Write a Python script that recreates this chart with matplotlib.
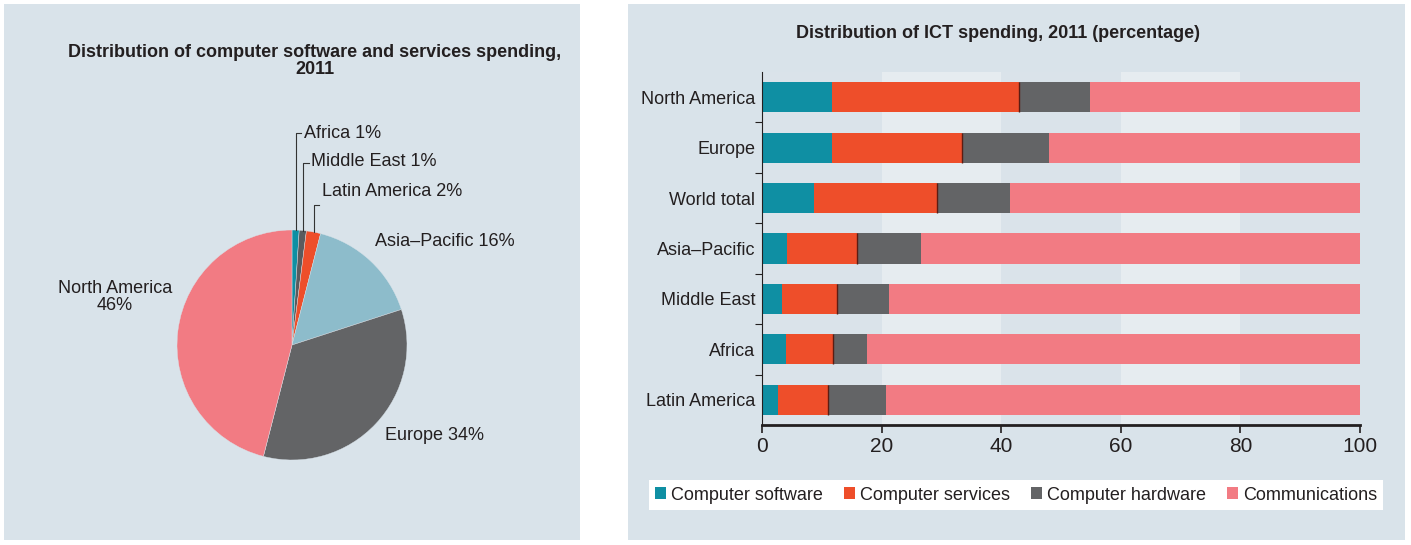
import numpy as np
import matplotlib
matplotlib.use("Agg")
import matplotlib.pyplot as plt

plt.rcParams['font.family'] = ['Liberation Sans', 'DejaVu Sans']

# pie data (clockwise from top)
pie_labels = ["Africa", "Middle East", "Latin America", "Asia\u2013Pacific", "Europe", "North America"]
pie_values = [1, 1, 2, 16, 34, 46]
pie_colors = ["#0f8fa3", "#5a5b5e", "#ee4e2a", "#8dbccb", "#636466", "#f27b83"]

# bar data
regions = ["North America", "Europe", "World total", "Asia\u2013Pacific", "Middle East", "Africa", "Latin America"]
software = [11.7, 11.7, 8.7, 4.2, 3.4, 4.0, 2.7]
services = [31.3, 21.8, 20.6, 11.7, 9.1, 7.8, 8.4]
hardware = [11.8, 14.5, 12.2, 10.7, 8.8, 5.8, 9.7]
series_names = ["Computer software", "Computer services", "Computer hardware", "Communications"]
series_colors = ["#0f8fa3", "#ee4e2a", "#636466", "#f27b83"]

W, H = 1411, 545
fig = plt.figure(figsize=(W / 100, H / 100), dpi=100)
fig.patch.set_facecolor("white")
bg = "#d9e3ea"
txt = "#231f20"

def px(x0, y0, x1, y1):
    return [x0 / W, 1 - y1 / H, (x1 - x0) / W, (y1 - y0) / H]

# panel backgrounds
for box in [(4, 4, 580, 540), (628, 4, 1405, 540)]:
    a = fig.add_axes(px(*box), zorder=-10)
    a.set_facecolor(bg)
    a.set_xticks([])
    a.set_yticks([])
    for s in a.spines.values():
        s.set_visible(False)

# ---------- pie ----------
fig.text(315 / W, 1 - 61 / H, "Distribution of computer software and services spending,\n2011",
         ha="center", va="center", fontsize=13, fontweight="bold", color=txt, linespacing=1.05)

cx, cy, r = 292, 345, 115
axp = fig.add_axes(px(cx - r, cy - r, cx + r, cy + r))
axp.set_facecolor("none")
wedges, _ = axp.pie(pie_values, colors=pie_colors, startangle=90, counterclock=False,
                    radius=1.0, wedgeprops=dict(linewidth=0.3, edgecolor=bg))
axp.set_xlim(-1, 1)
axp.set_ylim(-1, 1)
axp.axis("off")

def d(pxx, pyy):
    return ((pxx - cx) / r, (cy - pyy) / r)

# small slices with leader lines: (slice, top of line y, text y)
small = [(0, 133, 133), (1, 163, 162), (2, 205, 191)]
for i, ly, ty in small:
    w = wedges[i]
    mid = np.deg2rad((w.theta1 + w.theta2) / 2)
    x0, y0 = np.cos(mid), np.sin(mid)
    ytop = d(0, ly)[1]
    axp.plot([x0, x0, x0 + 0.05], [y0, ytop, ytop], color="#333333", lw=0.8, clip_on=False)
    axp.text(x0 + 0.07, d(0, ty)[1], "%s %d%%" % (pie_labels[i], pie_values[i]),
             ha="left", va="center", fontsize=13, color=txt, clip_on=False)

axp.text(*d(375, 241), "%s %d%%" % (pie_labels[3], pie_values[3]), ha="left", va="center",
         fontsize=13, color=txt, clip_on=False)
axp.text(*d(385, 436), "%s %d%%" % (pie_labels[4], pie_values[4]), ha="left", va="center",
         fontsize=13, color=txt, clip_on=False)
axp.text(*d(115, 297), "%s\n%d%%" % (pie_labels[5], pie_values[5]), ha="center", va="center",
         fontsize=13, color=txt, clip_on=False, linespacing=1.05)

# ---------- bars ----------
fig.text(998 / W, 1 - 33 / H, "Distribution of ICT spending, 2011 (percentage)",
         ha="center", va="center", fontsize=13, fontweight="bold", color=txt)

axb = fig.add_axes(px(762, 72, 1360, 425))
axb.set_facecolor("none")
for k, x0 in enumerate(range(0, 100, 20)):
    axb.axvspan(x0, x0 + 20, color="#dae3ea" if k % 2 == 0 else "#e6ecf0", lw=0, zorder=0)

ypos = np.arange(len(regions))
sw = np.array(software)
sv = np.array(services)
hw = np.array(hardware)
comm = 100 - sw - sv - hw
left = np.zeros(len(regions))
for vals, c, name in zip([sw, sv, hw, comm], series_colors, series_names):
    axb.barh(ypos, vals, left=left, height=0.6, color=c, label=name, zorder=2, linewidth=0)
    left = left + vals
# thin dark seam at the end of the services segment
axb.vlines(sw + sv, ypos - 0.3, ypos + 0.3, color="#5c1c12", lw=1.0, zorder=3)

axb.set_xlim(0, 100)
axb.set_ylim(len(regions) - 0.5, -0.5)
axb.set_yticks(ypos)
axb.set_yticklabels(regions, fontsize=13, color=txt)
axb.tick_params(axis="y", length=0, pad=5)
axb.set_yticks(np.arange(0.5, len(regions) - 1, 1), minor=True)
axb.tick_params(axis="y", which="minor", length=5, width=0.8, color="#231f20")
axb.set_xticks(range(0, 101, 20))
axb.tick_params(axis="x", labelsize=15, labelcolor=txt, length=6, width=1.2, color="#231f20", pad=3)
for s in ["top", "right"]:
    axb.spines[s].set_visible(False)
axb.spines["left"].set_color("#231f20")
axb.spines["left"].set_linewidth(0.8)
axb.spines["bottom"].set_color("#231f20")
axb.spines["bottom"].set_linewidth(2)

leg = fig.legend(loc="center", bbox_to_anchor=(1016 / W, 1 - 495 / H), ncol=4, frameon=True,
                 fontsize=13, handlelength=0.6, handleheight=0.6, handletextpad=0.3,
                 columnspacing=1.15, borderpad=0.35, fancybox=False)
leg.get_frame().set_facecolor("white")
leg.get_frame().set_edgecolor("none")
leg.get_frame().set_alpha(1)
for t in leg.get_texts():
    t.set_color(txt)

fig.savefig("out.png", dpi=100, facecolor="white")
